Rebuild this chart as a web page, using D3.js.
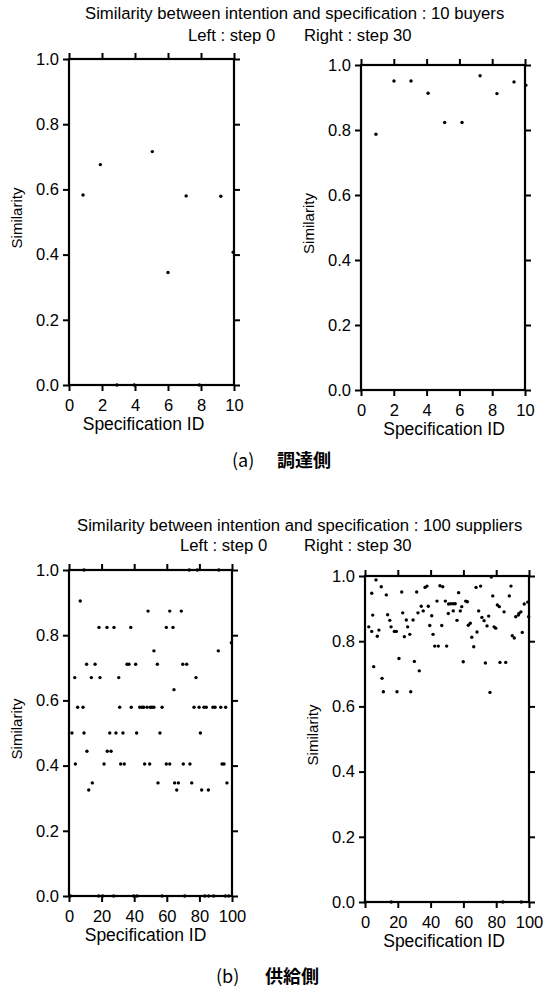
<!DOCTYPE html>
<html>
<head>
<meta charset="UTF-8">
<title>Similarity between intention and specification</title>
<script src="https://cdn.jsdelivr.net/npm/d3@7"></script>
<style>
  body { margin: 0; background: #fff; }
  svg text { font-family: 'Liberation Sans', Arial, sans-serif; fill: #000; }
  .axis line { stroke: #000; stroke-width: 2; }
  .frame { fill: none; stroke: #000; stroke-width: 2.2; }
  .caption { font-family: 'Noto Sans CJK JP', sans-serif; font-size: 18px; }
</style>
</head>
<body>
<svg id="chart"></svg>
<script>

const width = 544, height = 988;

// Tick values
const simTicks = [0, 0.2, 0.4, 0.6, 0.8, 1.0];
const buyerIdTicks = [0, 2, 4, 6, 8, 10];
const supplierIdTicks = [0, 20, 40, 60, 80, 100];

// (a) buyers, step 0
const buyerStep0Id  = [0.85, 1.9, 2.9, 3.95, 5.05, 6.0, 7.1, 7.9, 9.2, 9.95];
const buyerStep0Sim = [0.583, 0.676, 0, 0, 0.716, 0.345, 0.580, 0, 0.579, 0.407];

// (a) buyers, step 30
const buyerStep30Id  = [0.91, 2.01, 3.05, 4.09, 5.1, 6.16, 7.26, 8.29, 9.33, 10.05];
const buyerStep30Sim = [0.787, 0.951, 0.951, 0.913, 0.823, 0.823, 0.967, 0.912, 0.948, 0.938];

// (b) suppliers, step 0
const supplierStep0Id = [
  0.8, 18.2, 20.7, 27.4, 39.7, 41.7, 57.1, 71, 83.3, 85.7, 88.8, 95.9, 98,
  9.2, 73.8, 78.7, 91.9,
  6.9,
  48.5, 61.8, 68.9,
  18.4, 23.3, 27.6, 37.9, 59.7, 63.8,
  99.6,
  52.1, 91.6,
  10.8, 16, 35.6, 36.8, 40.9, 54.2, 69.8, 72.2,
  3.5, 13.7, 19, 30.5, 77.9,
  64.4,
  5.3, 8.6, 31.1, 38.2, 43.4, 44.8, 45.8, 47.9, 49.9, 50.9, 52.1, 57.1, 76.7, 79.8, 82.8, 84.2, 88.3, 89.6, 93.1, 96.1,
  1.8, 9.2, 25, 28.8, 33.1, 41.5, 55.8, 80.6,
  11, 23.5, 25.8,
  3.9, 21.5, 31.7, 33.9, 46.4, 49.5, 59.7, 61.8, 70.1, 74.2, 93.9, 95.1,
  14.3, 54.6, 64.8, 67.1, 75.3, 96.9,
  12.1, 66.1, 81.4, 85.5
];
const supplierStep0Sim = [
  0, 0, 0, 0, 0, 0, 0, 0, 0, 0, 0, 0, 0,
  1, 1, 1, 1,
  0.905,
  0.874, 0.874, 0.874,
  0.824, 0.824, 0.824, 0.824, 0.824, 0.824,
  0.777,
  0.752, 0.752,
  0.711, 0.711, 0.711, 0.711, 0.711, 0.711, 0.711, 0.711,
  0.670, 0.670, 0.670, 0.670, 0.670,
  0.633,
  0.579, 0.579, 0.579, 0.579, 0.579, 0.579, 0.579, 0.579, 0.579, 0.579, 0.579, 0.579, 0.579, 0.579, 0.579, 0.579, 0.579, 0.579, 0.579, 0.579,
  0.50, 0.50, 0.50, 0.50, 0.50, 0.50, 0.50, 0.50,
  0.444, 0.444, 0.444,
  0.405, 0.405, 0.405, 0.405, 0.405, 0.405, 0.405, 0.405, 0.405, 0.405, 0.405, 0.405,
  0.347, 0.347, 0.347, 0.347, 0.347, 0.347,
  0.325, 0.325, 0.325, 0.325
];

// (b) suppliers, step 30
const supplierStep30Id = [
  6.7, 9.9, 4.1, 13, 22.4, 31.5, 36.6, 37.8, 45.7, 47.4,
  4.7, 13.8, 15.1, 23, 25.2, 29.3, 32.3, 34.3, 35.5, 38.6,
  40.7, 43.9, 49, 51, 50.8, 2.3, 15.9, 26, 39.5, 46.8,
  4.1, 8.5, 7.5, 17.9, 19.1, 24, 27.3, 41.5, 42.5, 44.7,
  49.8, 20.7, 30.1, 33.1, 5.3, 10.4, 11.2, 19.5, 27.9,
  57.1, 67.7, 70.5, 77.9, 89, 88, 52.3, 53.8, 55, 61.4,
  62.4, 59, 53.8, 58.1, 56.1, 69.3, 71.3, 72.6, 75.4, 80.7,
  81.9, 84.8, 97.1, 99.2, 95.1, 91.9, 93.5, 93.9, 99.8, 63,
  64.2, 74.4, 78.7, 79.7, 68.3, 95.9, 65.1, 89.8, 91, 66.3,
  59.9, 73.4, 82.3, 85.8, 76.2, 77, 0.2, 16, 84.1, 95.3
];
const supplierStep30Sim = [
  0.988, 0.967, 0.947, 0.942, 0.951, 0.951, 0.965, 0.969, 0.970, 0.967,
  0.880, 0.881, 0.864, 0.887, 0.865, 0.865, 0.887, 0.907, 0.893, 0.907,
  0.878, 0.923, 0.923, 0.914, 0.885, 0.844, 0.844, 0.844, 0.848, 0.848,
  0.830, 0.834, 0.815, 0.830, 0.830, 0.814, 0.821, 0.821, 0.785, 0.785,
  0.785, 0.747, 0.738, 0.709, 0.722, 0.686, 0.645, 0.645, 0.645,
  0.949, 0.965, 0.969, 0.939, 0.969, 0.939, 0.915, 0.915, 0.915, 0.923,
  0.921, 0.906, 0.893, 0.893, 0.864, 0.893, 0.873, 0.863, 0.877, 0.911,
  0.906, 0.890, 0.914, 0.920, 0.890, 0.875, 0.880, 0.885, 0.875, 0.849,
  0.855, 0.847, 0.844, 0.840, 0.828, 0.827, 0.812, 0.817, 0.810, 0.783,
  0.737, 0.733, 0.735, 0.735, 0.643, 0.997, 0, 0, 0, 0
];

let svg = d3.select("#chart")
  .attr("width", width)
  .attr("height", height);

// Panel frames (left, top, right, bottom) in pixels
let panels = [
  {box: [69, 59, 234, 385], maxId: 10, xTicks: buyerIdTicks, ids: buyerStep0Id, sims: buyerStep0Sim, shift: -8},
  {box: [361, 65, 525, 390], maxId: 10, xTicks: buyerIdTicks, ids: buyerStep30Id, sims: buyerStep30Sim, shift: 1},
  {box: [69, 570, 232, 896], maxId: 100, xTicks: supplierIdTicks, ids: supplierStep0Id, sims: supplierStep0Sim, shift: -5},
  {box: [365, 576, 529, 902], maxId: 100, xTicks: supplierIdTicks, ids: supplierStep30Id, sims: supplierStep30Sim, shift: -3}
];

function styleAxis(sel) {
  sel.select(".domain").remove();
  sel.attr("font-family", "'Liberation Sans', Arial, sans-serif")
     .attr("font-size", 16.5);
}

function drawPanel(p) {
  let [x0, y0, x1, y1] = p.box;
  let x = d3.scaleLinear().domain([0, p.maxId]).range([x0, x1]);
  let y = d3.scaleLinear().domain([0, 1]).range([y1, y0]);
  let g = svg.append("g");

  // ticks on all four sides, pointing outward
  g.append("g").attr("class", "axis")
    .attr("transform", "translate(0," + y1 + ")")
    .call(d3.axisBottom(x).tickValues(p.xTicks).tickFormat(d3.format("d"))
      .tickSize(6).tickSizeOuter(0).tickPadding(8))
    .call(styleAxis);
  g.append("g").attr("class", "axis")
    .attr("transform", "translate(0," + y0 + ")")
    .call(d3.axisTop(x).tickValues(p.xTicks).tickFormat("")
      .tickSize(6).tickSizeOuter(0))
    .call(styleAxis);
  g.append("g").attr("class", "axis")
    .attr("transform", "translate(" + x0 + ",0)")
    .call(d3.axisLeft(y).tickValues(simTicks).tickFormat(d3.format(".1f"))
      .tickSize(6).tickSizeOuter(0).tickPadding(4))
    .call(styleAxis);
  g.append("g").attr("class", "axis")
    .attr("transform", "translate(" + x1 + ",0)")
    .call(d3.axisRight(y).tickValues(simTicks).tickFormat("")
      .tickSize(6).tickSizeOuter(0))
    .call(styleAxis);

  g.append("rect")
    .attr("class", "frame")
    .attr("x", x0).attr("y", y0)
    .attr("width", x1 - x0).attr("height", y1 - y0);

  // points
  g.selectAll("circle")
    .data(d3.range(p.ids.length))
    .join("circle")
    .attr("cx", i => x(p.ids[i]))
    .attr("cy", i => y(p.sims[i]))
    .attr("r", 1.7)
    .attr("fill", "#000");

  // axis titles
  g.append("text")
    .attr("x", (x0 + x1) / 2 + p.shift)
    .attr("y", y1 + 45)
    .attr("text-anchor", "middle")
    .style("font-size", "17.5px")
    .text("Specification ID");

  g.append("text")
    .attr("transform", "translate(" + (x0 - 52) + "," + ((y0 + y1) / 2 - 4) + ") rotate(-90)")
    .attr("text-anchor", "middle")
    .attr("dy", "0.35em")
    .style("font-size", "15px")
    .text("Similarity");
}

panels.forEach(drawPanel);

// Headings
svg.append("text").attr("x", 85).attr("y", 19).style("font-size", "16.7px")
  .text("Similarity between intention and specification : 10 buyers");
svg.append("text").attr("x", 188).attr("y", 41).style("font-size", "16.7px")
  .text("Left : step 0");
svg.append("text").attr("x", 304).attr("y", 41).style("font-size", "16.7px")
  .text("Right : step 30");

svg.append("text").attr("x", 77).attr("y", 531).style("font-size", "16.7px")
  .text("Similarity between intention and specification : 100 suppliers");
svg.append("text").attr("x", 180).attr("y", 551).style("font-size", "16.7px")
  .text("Left : step 0");
svg.append("text").attr("x", 304).attr("y", 551).style("font-size", "16.7px")
  .text("Right : step 30");

// Captions
svg.append("text").attr("class", "caption").attr("x", 232).attr("y", 467).text("(a)");
svg.append("text").attr("class", "caption").attr("x", 277).attr("y", 467)
  .style("font-weight", "bold").text("調達側");
svg.append("text").attr("class", "caption").attr("x", 216).attr("y", 983).text("(b)");
svg.append("text").attr("class", "caption").attr("x", 265).attr("y", 983)
  .style("font-weight", "bold").text("供給側");

</script>
</body>
</html>
